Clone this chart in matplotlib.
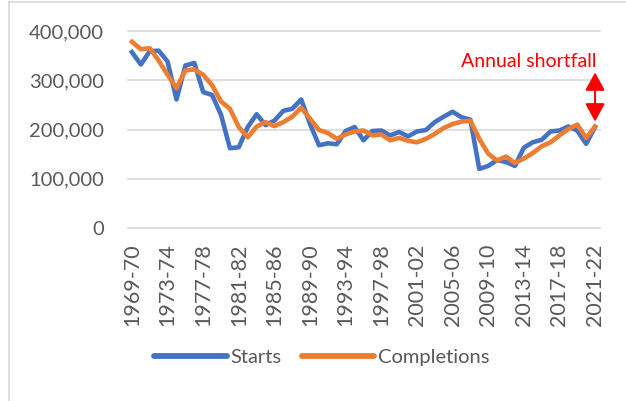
import matplotlib
matplotlib.use("Agg")
import matplotlib.pyplot as plt
from matplotlib.lines import Line2D
import numpy as np

plt.rcParams['font.family'] = ['Lato', 'DejaVu Sans']

years = [f"{y}-{str(y + 1)[-2:]}" for y in range(1969, 2022)]

starts = [357, 332, 359, 360, 338, 261, 330, 335, 276, 270,
          230, 162, 164, 205, 231, 209, 218, 238, 242, 261,
          211, 168, 172, 170, 197, 205, 178, 197, 198, 188,
          195, 186, 196, 199, 215, 226, 236, 225, 220, 120,
          126, 138, 134, 126, 163, 174, 179, 196, 198, 206,
          198, 171, 205]
completions = [378, 363, 365, 340, 311, 284, 320, 322, 311, 290,
               257, 242, 205, 184, 206, 215, 207, 215, 226, 244,
               222, 199, 193, 181, 190, 196, 198, 188, 190, 178,
               183, 177, 174, 181, 191, 203, 211, 216, 218, 181,
               151, 137, 145, 132, 141, 152, 166, 174, 188, 201,
               210, 183, 206]
starts = [v * 1000 for v in starts]
completions = [v * 1000 for v in completions]

y_ticks = [0, 100000, 200000, 300000, 400000]
y_labels = ["0", "100,000", "200,000", "300,000", "400,000"]

W, H = 626, 401
fig = plt.figure(figsize=(W / 100, H / 100), dpi=100)
ax = fig.add_axes([127.5 / W, (H - 228) / H, (599.5 - 127.5) / W, (228 - 31) / H])

x = np.arange(len(years))
ax.plot(x, starts, color="#4472C4", lw=3.3, solid_joinstyle="round", label="Starts", zorder=3)
ax.plot(x, completions, color="#ED7D31", lw=3.3, solid_joinstyle="round", label="Completions", zorder=4)

ax.set_xlim(-0.5, len(years) - 0.5)
ax.set_ylim(0, 400000)
ax.set_yticks(y_ticks)
ax.set_yticklabels(y_labels)
ax.set_xticks(x[::4])
ax.set_xticklabels([years[i] for i in range(0, len(years), 4)], rotation=90)
ax.tick_params(axis="y", length=0, pad=17, labelsize=14.5, labelcolor="#595959")
ax.tick_params(axis="x", length=0, pad=11, labelsize=15.5, labelcolor="#595959")
for lab in ax.get_xticklabels():
    lab.set_va("top")
    lab.set_ha("center")
ax.grid(axis="y", color="#D9D9D9", lw=1.2)
ax.set_axisbelow(True)
for s in ax.spines.values():
    s.set_visible(False)
for gl in ax.get_ygridlines():
    gl.set_clip_on(False)

# annotation
ax.annotate("", xy=(52, 216000), xytext=(52, 316000),
            arrowprops=dict(arrowstyle="<|-|>,head_length=1.1,head_width=0.6",
                            color="#FF0000", lw=1.5, shrinkA=0, shrinkB=0,
                            mutation_scale=10), zorder=6)
ax.text(52.2, 338000, "Annual shortfall", color="#FF0000", fontsize=14,
        ha="right", va="center", zorder=6)

handles = [Line2D([], [], color="#4472C4", lw=4.2, solid_capstyle="round"),
           Line2D([], [], color="#ED7D31", lw=4.2, solid_capstyle="round")]
leg = fig.legend(handles, ["Starts", "Completions"], loc="center",
                 bbox_to_anchor=(322 / W, (H - 357) / H), ncol=2, frameon=False,
                 fontsize=14.5, handlelength=3.6, handletextpad=0.2,
                 columnspacing=1.0, labelcolor="#595959")

# chart border
fig.add_artist(Line2D([9 / W, 9 / W], [0, 1 - 1.5 / H], transform=fig.transFigure,
                      color="#D9D9D9", lw=1.2))
fig.add_artist(Line2D([9 / W, 1], [1 - 1.5 / H, 1 - 1.5 / H], transform=fig.transFigure,
                      color="#D9D9D9", lw=1.2))

fig.savefig("out.png", dpi=100, facecolor="white")
